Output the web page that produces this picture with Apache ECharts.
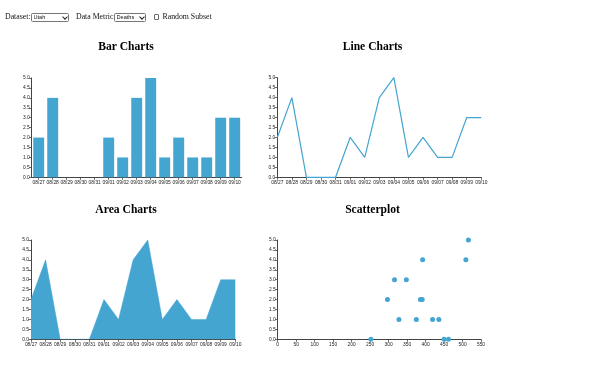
<!DOCTYPE html>
<html>
<head>
<meta charset="utf-8">
<script src="https://cdn.jsdelivr.net/npm/echarts@6/dist/echarts.min.js"></script>
<style>
  html, body { margin: 0; padding: 0; background: #ffffff; }
  body { width: 600px; height: 368px; position: relative; overflow: hidden; font-family: "Liberation Serif", serif; }
  .lbl { position: absolute; font-size: 7.8px; color: #111; white-space: nowrap; line-height: 8px; }
  select { position: absolute; -webkit-appearance: none; appearance: none; font-size: 5.6px; font-family: "Liberation Sans", sans-serif; padding: 0 0 0 1.5px; margin: 0; border: 0.8px solid #777; border-radius: 1.5px; background: #fff; color: #111; box-sizing: border-box; height: 8.5px; line-height: 7px; }
  .arrow { position: absolute; width: 3px; height: 3px; border-right: 0.9px solid #222; border-bottom: 0.9px solid #222; transform: rotate(45deg); pointer-events: none; }
  .cb { position: absolute; width: 5.5px; height: 5.5px; border: 0.8px solid #666; border-radius: 1px; background: #fff; box-sizing: border-box; }
  #chart { position: absolute; left: 0; top: 0; width: 600px; height: 368px; }
</style>
</head>
<body>
<div id="chart"></div>
<span class="lbl" style="left:5px;top:13px;">Dataset:</span>
<select style="left:31px;top:13px;width:38px;"><option>Utah</option></select>
<div class="arrow" style="left:62.5px;top:15px;"></div>
<span class="lbl" style="left:76px;top:13px;">Data Metric</span>
<select style="left:114px;top:13px;width:31.5px;"><option>Deaths</option></select>
<div class="arrow" style="left:139.5px;top:15px;"></div>
<div class="cb" style="left:153.5px;top:14.3px;"></div>
<span class="lbl" style="left:162.5px;top:13px;">Random Subset</span>
<script>
// ---- data ----
const dates = ["08/27","08/28","08/29","08/30","08/31","09/01","09/02","09/03","09/04","09/05","09/06","09/07","09/08","09/09","09/10"];
const deaths = [2, 4, 0, 0, 0, 2, 1, 4, 5, 1, 2, 1, 1, 3, 3];
const scatterX = [252, 297, 316, 328, 348, 375, 386, 391, 392, 419, 436, 450, 462, 509, 516];
const scatterY = [0, 2, 3, 1, 3, 1, 2, 2, 4, 1, 1, 0, 0, 4, 5];
const titles = ["Bar Charts", "Line Charts", "Area Charts", "Scatterplot"];

const COLOR = "#44a5d0";
const AXIS = "#444";
const TXT = "#222";
const tickFont = { fontSize: 4.9, color: TXT, fontFamily: "Liberation Sans, Arial, sans-serif" };

const grids = [
  { left: 31.7, top: 78, width: 210, height: 99.3 },
  { left: 277.3, top: 77.7, width: 204, height: 99.6 },
  { left: 31, top: 240, width: 204.3, height: 99.3 },
  { left: 277.7, top: 240, width: 203.3, height: 99.3 }
];

function yAxis(i) {
  return {
    gridIndex: i, type: "value", min: 0, max: 5, interval: 0.5,
    axisLine: { show: true, lineStyle: { color: AXIS, width: 1 } },
    axisTick: { show: true, length: 2.5, lineStyle: { color: AXIS, width: 0.8 } },
    axisLabel: Object.assign({ margin: 2, formatter: v => v.toFixed(1) }, tickFont),
    splitLine: { show: false }
  };
}
function xCat(i, gap) {
  return {
    gridIndex: i, type: "category", data: dates, boundaryGap: gap,
    axisLine: { show: true, onZero: false, lineStyle: { color: AXIS, width: 1 } },
    axisTick: { show: true, alignWithLabel: true, interval: 0, length: 2.5, lineStyle: { color: AXIS, width: 0.8 } },
    axisLabel: Object.assign({ margin: 2.5, interval: 0 }, tickFont),
    splitLine: { show: false }
  };
}

const titleCenters = [[126, 40.5], [372.5, 40.5], [126, 203.5], [372.5, 203.5]];

const option = {
  animation: false,
  title: titles.map((t, i) => ({
    text: t, left: titleCenters[i][0], top: titleCenters[i][1], textAlign: "center", padding: 0,
    textStyle: { fontFamily: "Liberation Serif, Times New Roman, serif", fontWeight: "bold", fontSize: 11.6, color: "#000" }
  })),
  grid: grids,
  xAxis: [
    xCat(0, true),
    xCat(1, false),
    xCat(2, false),
    {
      gridIndex: 3, type: "value", min: 0, max: 550, interval: 50,
      axisLine: { show: true, onZero: false, lineStyle: { color: AXIS, width: 1 } },
      axisTick: { show: true, length: 2.5, lineStyle: { color: AXIS, width: 0.8 } },
      axisLabel: Object.assign({ margin: 2.5, showMaxLabel: true, showMinLabel: true }, tickFont),
      splitLine: { show: false }
    }
  ],
  yAxis: [yAxis(0), yAxis(1), yAxis(2), yAxis(3)],
  series: [
    { type: "bar", xAxisIndex: 0, yAxisIndex: 0, data: deaths, barCategoryGap: "22%", itemStyle: { color: COLOR } },
    { type: "line", xAxisIndex: 1, yAxisIndex: 1, data: deaths, showSymbol: false, lineStyle: { color: COLOR, width: 1.2 } },
    { type: "line", xAxisIndex: 2, yAxisIndex: 2, data: deaths, showSymbol: false, lineStyle: { color: COLOR, width: 0.5 }, areaStyle: { color: COLOR, opacity: 1 } },
    { type: "scatter", xAxisIndex: 3, yAxisIndex: 3, data: scatterX.map((x, k) => [x, scatterY[k]]), symbolSize: 5, itemStyle: { color: COLOR, opacity: 1 } }
  ]
};
const chart = echarts.init(document.getElementById("chart"), null, { renderer: "canvas" });
chart.setOption(option);
</script>
</body>
</html>
